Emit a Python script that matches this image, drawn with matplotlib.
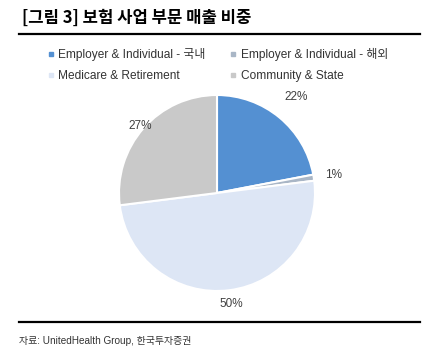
import matplotlib.pyplot as plt
import numpy as np
from matplotlib.lines import Line2D

plt.rcParams['font.family'] = ['Liberation Sans', 'Noto Sans CJK KR']

labels = ['Employer & Individual - 국내', 'Employer & Individual - 해외',
          'Medicare & Retirement', 'Community & State']
shares = [22, 1, 50, 27]
colors = ['#5490D2', '#A9B6C6', '#DDE6F5', '#C9C9C9']
label_dist = [1.27, 1.2, 1.14, 1.04]

fig = plt.figure(figsize=(4.33, 3.64), dpi=100)

fig.text(22 / 433, 1 - 18 / 364, '[그림 3] 보험 사업 부문 매출 비중', fontsize=12,
         fontweight='bold', family=['Noto Sans CJK KR'], va='center', ha='left')
fig.add_artist(Line2D([19 / 433, 420 / 433], [1 - 34 / 364, 1 - 34 / 364],
                      color='black', lw=1.6))
fig.add_artist(Line2D([19 / 433, 420 / 433], [1 - 322 / 364, 1 - 322 / 364],
                      color='black', lw=1.6))
fig.text(19 / 433, 1 - 341 / 364, '자료: UnitedHealth Group, 한국투자증권', fontsize=7.2,
         color='#333333', va='center', ha='left')

cx, cy, r = 217, 193, 98
ax = fig.add_axes([(cx - r) / 433, (364 - cy - r) / 364, 2 * r / 433, 2 * r / 364])
wedges, _ = ax.pie(shares, colors=colors, startangle=90, counterclock=False,
                   wedgeprops=dict(edgecolor='white', linewidth=1.5))
for w, v, d in zip(wedges, shares, label_dist):
    ang = np.deg2rad((w.theta1 + w.theta2) / 2)
    ax.text(d * np.cos(ang), d * np.sin(ang), f'{v}%', ha='center', va='center',
            fontsize=8.5, color='#404040')
ax.set_xlim(-1, 1)
ax.set_ylim(-1, 1)
ax.set_aspect('equal')
ax.axis('off')

handles = [Line2D([], [], marker='s', ls='', markersize=3, color=c) for c in colors]
order = [0, 2, 1, 3]
fig.legend([handles[i] for i in order], [labels[i] for i in order], ncol=2,
           loc='upper left', bbox_to_anchor=(37 / 433, 1 - 37 / 364), frameon=False,
           fontsize=8.6, handlelength=0.6, handletextpad=0.3, columnspacing=2.0,
           labelspacing=0.75, labelcolor='#333333')

fig.savefig('out.png', dpi=100)
